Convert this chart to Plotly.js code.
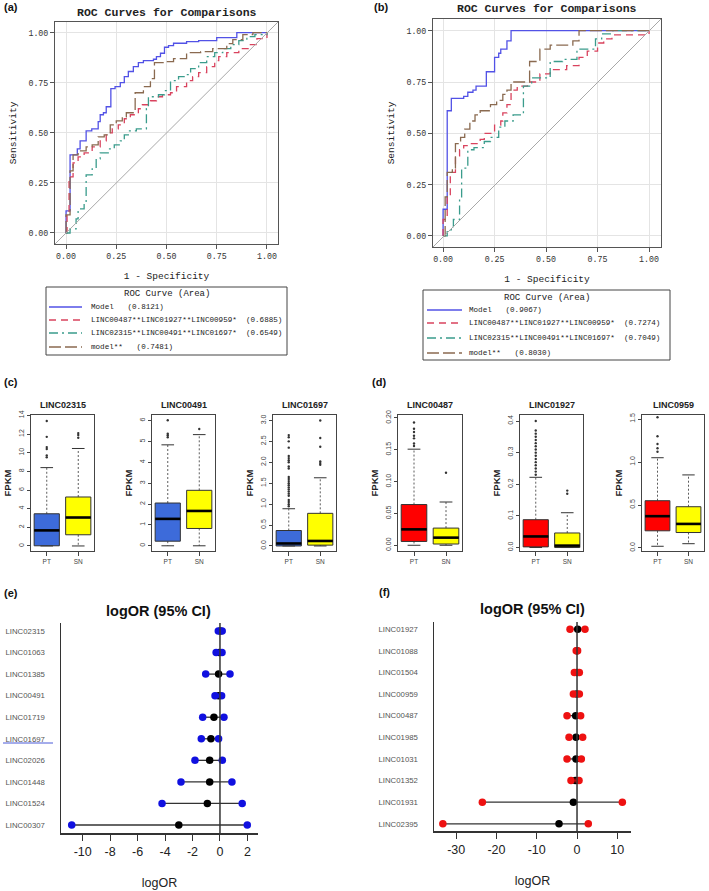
<!DOCTYPE html>
<html><head><meta charset="utf-8">
<script src="https://cdn.plot.ly/plotly-3.0.1.min.js"></script>
<style>body{margin:0;padding:0;background:#fff}#chart{width:709px;height:891px}</style>
</head><body><div id="chart"></div>
<script>
// ---------- ROC data (a) ----------
const aModelFpr = [0,0,0.02,0.056,0.07,0.10,0.128,0.16,0.17,0.186,0.20,0.223,0.244,0.27,0.29,0.31,0.335,0.36,0.385,0.435,0.45,0.47,0.49,0.51,0.535,0.6,0.66,0.75,0.85,1.0];
const aModelTpr = [0,0.11,0.39,0.42,0.46,0.51,0.52,0.556,0.59,0.60,0.63,0.72,0.73,0.75,0.78,0.806,0.83,0.85,0.86,0.867,0.88,0.897,0.927,0.935,0.947,0.955,0.96,0.975,1.0,1.0];
const aRedFpr = [0,0.005,0.015,0.035,0.06,0.09,0.13,0.17,0.20,0.23,0.26,0.29,0.32,0.36,0.38,0.42,0.45,0.48,0.52,0.55,0.60,0.63,0.66,0.70,0.74,0.76,0.80,0.86,0.91,0.95,1.0];
const aRedTpr = [0,0.09,0.28,0.35,0.38,0.40,0.43,0.46,0.50,0.52,0.54,0.57,0.59,0.62,0.64,0.66,0.68,0.69,0.70,0.73,0.76,0.78,0.80,0.83,0.86,0.88,0.90,0.92,0.94,0.97,1.0];
const aTealFpr = [0,0.02,0.05,0.06,0.09,0.10,0.13,0.15,0.17,0.21,0.24,0.27,0.29,0.31,0.35,0.40,0.41,0.46,0.49,0.52,0.56,0.60,0.62,0.66,0.70,0.74,0.78,0.82,0.86,0.90,0.94,1.0];
const aTealTpr = [0,0.02,0.07,0.12,0.15,0.29,0.32,0.37,0.40,0.42,0.44,0.46,0.49,0.51,0.52,0.62,0.68,0.69,0.71,0.76,0.78,0.79,0.82,0.85,0.88,0.90,0.92,0.94,0.96,0.98,0.99,1.0];
const aBrownFpr = [0,0,0.02,0.035,0.06,0.10,0.13,0.16,0.19,0.22,0.25,0.28,0.30,0.344,0.385,0.42,0.44,0.50,0.535,0.60,0.67,0.73,0.80,0.83,0.88,0.93,1.0];
const aBrownTpr = [0,0.09,0.31,0.39,0.41,0.43,0.44,0.48,0.49,0.54,0.56,0.58,0.60,0.70,0.73,0.77,0.85,0.855,0.87,0.90,0.905,0.92,0.945,0.965,0.99,1.0,1.0];
const aAreas = ["0.8121","0.6885","0.6549","0.7481"];
// ---------- ROC data (b) ----------
const bModelFpr = [0,0,0.02,0.04,0.10,0.12,0.145,0.16,0.21,0.25,0.27,0.28,0.31,0.33,1.0];
const bModelTpr = [0,0.13,0.61,0.67,0.68,0.70,0.71,0.73,0.80,0.87,0.89,0.91,0.95,1.0,1.0];
const bRedFpr = [0,0,0.02,0.035,0.06,0.08,0.10,0.13,0.18,0.20,0.25,0.28,0.29,0.31,0.33,0.36,0.41,0.47,0.52,0.60,0.66,0.70,0.75,0.78,0.82,1.0];
const bRedTpr = [0,0.08,0.19,0.31,0.39,0.42,0.44,0.45,0.47,0.50,0.54,0.56,0.60,0.64,0.71,0.73,0.75,0.79,0.81,0.83,0.87,0.90,0.94,0.96,0.98,1.0];
const bTealFpr = [0,0.02,0.05,0.08,0.09,0.12,0.15,0.20,0.23,0.27,0.30,0.34,0.39,0.43,0.52,0.58,0.65,0.74,0.77,0.82,1.0];
const bTealTpr = [0,0.03,0.08,0.18,0.33,0.42,0.43,0.46,0.48,0.53,0.56,0.59,0.73,0.77,0.85,0.86,0.91,0.96,0.985,1.0,1.0];
const bBrownFpr = [0,0.01,0.02,0.045,0.06,0.085,0.105,0.13,0.155,0.18,0.23,0.26,0.29,0.31,0.33,0.42,0.47,0.52,0.63,0.66,1.0];
const bBrownTpr = [0,0.19,0.31,0.33,0.45,0.48,0.52,0.56,0.59,0.61,0.64,0.66,0.69,0.71,0.75,0.85,0.91,0.93,0.95,1.0,1.0];
const bAreas = ["0.9067","0.7274","0.7049","0.8030"];
const rocNames = ["Model","LINC00487**LINC01927**LINC00959*","LINC02315**LINC00491**LINC01697*","model**"];
const rocTicks = [0,0.25,0.5,0.75,1];

// ---------- Box plots (c) ----------
const cGenes = ["LINC02315","LINC00491","LINC01697"];
const cPT_q1 = [0.02,0.22,0.0], cPT_med = [1.67,1.29,0.06], cPT_q3 = [3.45,2.05,0.37], cPT_lo = [0,0,0], cPT_hi = [8.4,4.84,0.89];
const cPT_out = [[9.5,9.7,10.4,10.6,11.7,13.4],[5.2,5.3,5.37,6.02],[0.95,1.0,1.05,1.1,1.2,1.25,1.3,1.35,1.4,1.45,1.5,1.55,1.6,1.65,1.85,1.9,2.0,2.05,2.1,2.15,2.35,2.5,2.6,2.65]];
const cSN_q1 = [1.2,0.83,0.02], cSN_med = [3.05,1.67,0.12], cSN_q3 = [5.25,2.66,0.78], cSN_lo = [0,0,0], cSN_hi = [10.45,5.33,1.63];
const cSN_out = [[11.6,11.9,12.1],[5.6],[1.94,1.98,2.02,2.37,2.58,3.0]];
const cRanges = [[-0.54,14.04],[-0.25,6.27],[-0.12,3.13]];
const cTicks = [[0,2,4,6,8,10,12,14],[0,1,2,3,4,5,6],[0,0.5,1,1.5,2,2.5,3]];
const cTickText = [["0","2","4","6","8","10","12","14"],["0","1","2","3","4","5","6"],["0.0","0.5","1.0","1.5","2.0","2.5","3.0"]];
// ---------- Box plots (d) ----------
const dGenes = ["LINC00487","LINC01927","LINC0959"];
const dPT_q1 = [0.006,0.002,0.2], dPT_med = [0.025,0.035,0.37], dPT_q3 = [0.064,0.088,0.55], dPT_lo = [0,0,0.02], dPT_hi = [0.151,0.222,1.05];
const dPT_out = [[0.156,0.16,0.168,0.172,0.178,0.183,0.193],[0.23,0.24,0.25,0.26,0.27,0.28,0.29,0.30,0.31,0.32,0.33,0.34,0.35,0.36,0.37,0.40],[1.12,1.16,1.21,1.30,1.52]];
const dSN_q1 = [0.002,0.0,0.18], dSN_med = [0.012,0.006,0.28], dSN_q3 = [0.027,0.046,0.48], dSN_lo = [0,0,0.05], dSN_hi = [0.068,0.11,0.85];
const dSN_out = [[0.114],[0.17,0.18],[]];
const dRanges = [[-0.009,0.2047],[-0.011,0.419],[-0.035,1.547]];
const dTicks = [[0,0.05,0.1,0.15,0.2],[0,0.1,0.2,0.3,0.4],[0,0.5,1,1.5]];
const dTickText = [["0.00","0.05","0.10","0.15","0.20"],["0.0","0.1","0.2","0.3","0.4"],["0.0","0.5","1.0","1.5"]];
const groups = ["PT","SN"];

// ---------- Forest (e) ----------
const eGenes = ["LINC02315","LINC01063","LINC01385","LINC00491","LINC01719","LINC01697","LINC02026","LINC01448","LINC01524","LINC00307"];
const eLow = [-0.12,-0.28,-1.04,-0.36,-1.26,-1.36,-1.82,-2.84,-4.22,-10.8];
const eEst = [0.03,-0.05,-0.1,-0.1,-0.44,-0.66,-0.75,-0.75,-0.92,-3.0];
const eUp  = [0.16,0.15,0.73,0.12,0.29,-0.1,0.17,0.87,1.62,1.99];
const eTicks = [-10,-8,-6,-4,-2,0,2];
const eTickText = ["-10","-8","-6","-4","-2","0","2"];
// ---------- Forest (f) ----------
const fGenes = ["LINC01927","LINC01088","LINC01504","LINC00959","LINC00487","LINC01985","LINC01031","LINC01352","LINC01931","LINC02395"];
const fLow = [-1.74,-0.2,-0.66,-0.9,-2.48,-1.98,-2.48,-1.49,-23.5,-33.3];
const fEst = [0.17,0.0,0.0,-0.1,-0.33,-0.25,-0.25,-0.4,-0.9,-4.47];
const fUp  = [1.98,0.15,0.58,0.58,0.9,1.4,1.07,0.5,11.25,2.8];
const fTicks = [-30,-20,-10,0,10];
const fTickText = ["-30","-20","-10","0","10"];

// ---------- helpers ----------
const W = 709, H = 891;
const px = x => x / W;
const py = y => 1 - y / H;
const dom = (a, b, isY) => isY ? [1 - b / H, 1 - a / H] : [a / W, b / W];
const traces = [];
const shapes = [];
const annotations = [];
const layout = {
  width: W, height: H, margin: {l: 0, r: 0, t: 0, b: 0}, autosize: false,
  paper_bgcolor: '#fff', plot_bgcolor: '#fff', showlegend: false,
  font: {family: 'Liberation Sans, Arial, sans-serif', color: '#222'}
};
const rocColors = ['#5252E6', '#D9435E', '#3A9C8C', '#8A6A50'];
const rocDash = ['solid', '7px,5px', '9px,4px,2px,4px', '12px,4px'];
const mono = 'Liberation Mono, DejaVu Sans Mono, monospace';

function rocPanel(n, xd, yd, xr, yr, curves, areas, title, legendBox, xStand) {
  const xa = 'xaxis' + (n === 1 ? '' : n), ya = 'yaxis' + (n === 1 ? '' : n);
  const xs = 'x' + (n === 1 ? '' : n), ys = 'y' + (n === 1 ? '' : n);
  layout[xa] = {domain: dom(xd[0], xd[1]), range: xr, anchor: ys, tickvals: rocTicks, tickformat: '.2f',
    ticks: 'outside', ticklen: 4, tickcolor: '#555', showline: true, mirror: true, linecolor: '#555', linewidth: 1,
    showgrid: true, gridcolor: '#E4E4E4', zeroline: false, tickfont: {family: mono, size: 8.3, color: '#333'},
    title: {text: '1 - Specificity', font: {family: mono, size: 9.5, color: '#222'}, standoff: xStand}};
  layout[ya] = {domain: dom(yd[0], yd[1], true), range: yr, anchor: xs, tickvals: rocTicks, tickformat: '.2f',
    ticks: 'outside', ticklen: 4, tickcolor: '#555', showline: true, mirror: true, linecolor: '#555', linewidth: 1,
    showgrid: true, gridcolor: '#E4E4E4', zeroline: false, tickfont: {family: mono, size: 8.3, color: '#333'},
    title: {text: 'Sensitivity', font: {family: mono, size: 9.5, color: '#222'}, standoff: 10}};
  shapes.push({type: 'line', xref: xs + ' domain', yref: ys + ' domain', x0: 0, y0: 0, x1: 1, y1: 1,
    line: {color: '#A8A8A8', width: 1}});
  curves.forEach((c, i) => {
    traces.push({type: 'scatter', mode: 'lines', x: c[0], y: c[1], xaxis: xs, yaxis: ys,
      line: {color: rocColors[i], width: 1.3, dash: rocDash[i], shape: 'hv'}, hoverinfo: 'skip'});
  });
  annotations.push({xref: 'paper', yref: 'paper', x: px((xd[0] + xd[1]) / 2), y: py(title.y), text: '<b>ROC Curves for Comparisons</b>',
    showarrow: false, xanchor: 'center', yanchor: 'middle', font: {family: mono, size: 11.5, color: '#222'}});
  const L = legendBox;
  shapes.push({type: 'rect', xref: 'paper', yref: 'paper', x0: px(L.x0), x1: px(L.x1), y0: py(L.y0), y1: py(L.y1),
    line: {color: '#444', width: 1}, fillcolor: 'rgba(0,0,0,0)'});
  annotations.push({xref: 'paper', yref: 'paper', x: px((L.x0 + L.x1) / 2), y: py(L.rows[0]), text: 'ROC Curve (Area)',
    showarrow: false, xanchor: 'center', yanchor: 'middle', font: {family: mono, size: 9, color: '#222'}});
  rocNames.forEach((nm, i) => {
    const yy = L.rows[i + 1];
    shapes.push({type: 'line', xref: 'paper', yref: 'paper', x0: px(L.lx0), x1: px(L.lx1), y0: py(yy), y1: py(yy),
      line: {color: rocColors[i], width: 1.3, dash: rocDash[i]}});
    const gap = (i === 1 || i === 2) ? '\u00a0\u00a0' : '\u00a0\u00a0\u00a0';
    annotations.push({xref: 'paper', yref: 'paper', x: px(L.tx), y: py(yy), text: nm + gap + '(' + areas[i] + ')',
      showarrow: false, xanchor: 'left', yanchor: 'middle', font: {family: mono, size: 7.6, color: '#222'}});
  });
}

rocPanel(1, [55, 278], [22, 244], [-0.055, 1.055], [-0.055, 1.053],
  [[aModelFpr, aModelTpr], [aRedFpr, aRedTpr], [aTealFpr, aTealTpr], [aBrownFpr, aBrownTpr]], aAreas, {y: 12},
  {x0: 46, x1: 287, y0: 287, y1: 355, rows: [294, 307, 320, 333, 347], lx0: 49, lx1: 82, tx: 89}, 12);
rocPanel(2, [433, 661], [19, 247], [-0.049, 1.058], [-0.054, 1.057],
  [[bModelFpr, bModelTpr], [bRedFpr, bRedTpr], [bTealFpr, bTealTpr], [bBrownFpr, bBrownTpr]], bAreas, {y: 9},
  {x0: 423, x1: 670, y0: 290, y1: 360, rows: [298, 310, 323, 338, 353], lx0: 427, lx1: 462, tx: 467}, 12);

// ---------- box panels ----------
function boxPanel(n, xd, genes, q1s, meds, q3s, los, his, outs, rng, tv, tt, color) {
  const xs = 'x' + n, ys = 'y' + n;
  layout['xaxis' + n] = {domain: dom(xd[0], xd[1]), range: [0.5, 2.5], anchor: ys, tickvals: [1, 2], ticktext: groups,
    ticks: 'outside', ticklen: 4, tickcolor: '#444', showline: true, mirror: true, linecolor: '#444', linewidth: 1,
    showgrid: false, zeroline: false, tickfont: {size: 6.5, color: '#444'}};
  layout['yaxis' + n] = {domain: dom(415, 551, true), range: rng, anchor: xs, tickvals: tv, ticktext: tt, tickangle: -90,
    ticks: 'outside', ticklen: 3, tickcolor: '#444', showline: true, mirror: true, linecolor: '#444', linewidth: 1,
    showgrid: false, zeroline: false, tickfont: {size: 7, color: '#444'},
    title: {text: '<b>FPKM</b>', font: {size: 9.5, color: '#222'}, standoff: 4}};
  annotations.push({xref: 'paper', yref: 'paper', x: px((xd[0] + xd[1]) / 2), y: py(405), text: '<b>' + genes + '</b>',
    showarrow: false, xanchor: 'center', yanchor: 'middle', font: {size: 9, color: '#222'}});
  [0, 1].forEach(g => {
    const pos = g + 1;
    traces.push({type: 'box', x: [pos], q1: [q1s[g]], median: [meds[g]], q3: [q3s[g]], lowerfence: [q1s[g]], upperfence: [q3s[g]],
      width: 0.8, whiskerwidth: 0, fillcolor: color[g], line: {color: '#333', width: 1}, boxpoints: false,
      xaxis: xs, yaxis: ys, hoverinfo: 'skip'});
    traces.push({type: 'scatter', mode: 'lines', x: [pos, pos, null, pos, pos], y: [q3s[g], his[g], null, q1s[g], los[g]],
      line: {color: '#333', width: 0.8, dash: '2px,2px'}, xaxis: xs, yaxis: ys, hoverinfo: 'skip'});
    traces.push({type: 'scatter', mode: 'lines', x: [pos - 0.2, pos + 0.2, null, pos - 0.2, pos + 0.2], y: [his[g], his[g], null, los[g], los[g]],
      line: {color: '#333', width: 1}, xaxis: xs, yaxis: ys, hoverinfo: 'skip'});
    traces.push({type: 'scatter', mode: 'lines', x: [pos - 0.4, pos + 0.4], y: [meds[g], meds[g]],
      line: {color: '#000', width: 2.6}, xaxis: xs, yaxis: ys, hoverinfo: 'skip'});
    traces.push({type: 'scatter', mode: 'markers', x: outs[g].map(() => pos), y: outs[g],
      marker: {symbol: 'circle', size: 2.4, color: '#333'}, xaxis: xs, yaxis: ys, hoverinfo: 'skip'});
  });
}
const cDomains = [[31, 94], [152, 215], [273, 336]];
const dDomains = [[398, 462], [520, 583], [642, 704]];
for (let i = 0; i < 3; i++) {
  boxPanel(3 + i, cDomains[i], cGenes[i], [cPT_q1[i], cSN_q1[i]], [cPT_med[i], cSN_med[i]], [cPT_q3[i], cSN_q3[i]],
    [cPT_lo[i], cSN_lo[i]], [cPT_hi[i], cSN_hi[i]], [cPT_out[i], cSN_out[i]], cRanges[i], cTicks[i], cTickText[i], ['#3D6BDA', '#FFFF00']);
  boxPanel(6 + i, dDomains[i], dGenes[i], [dPT_q1[i], dSN_q1[i]], [dPT_med[i], dSN_med[i]], [dPT_q3[i], dSN_q3[i]],
    [dPT_lo[i], dSN_lo[i]], [dPT_hi[i], dSN_hi[i]], [dPT_out[i], dSN_out[i]], dRanges[i], dTicks[i], dTickText[i], ['#FF0000', '#FFFF00']);
}

// ---------- forest panels ----------
function forestPanel(n, xd, yd, xr, yr, genes, lo, est, up, tv, tt, dotColor, titleX, titleY) {
  const xs = 'x' + n, ys = 'y' + n;
  layout['xaxis' + n] = {domain: dom(xd[0], xd[1]), range: xr, anchor: ys, tickvals: tv, ticktext: tt,
    ticks: 'outside', ticklen: 6, tickcolor: '#333', showline: true, mirror: false, linecolor: '#333', linewidth: 1.5,
    showgrid: false, zeroline: false, tickfont: {size: 12.5, color: '#222'},
    title: {text: 'logOR', font: {size: 12.5, color: '#222'}, standoff: 20}};
  layout['yaxis' + n] = {domain: dom(yd[0], yd[1], true), type: 'category', categoryarray: genes, categoryorder: 'array',
    range: yr, anchor: xs, ticks: '', showline: true, mirror: false, linecolor: '#333', linewidth: 1.5,
    showgrid: false, zeroline: false, tickfont: {size: 7.8, color: '#555'}, ticklabelstandoff: 13};
  shapes.push({type: 'line', xref: xs, yref: ys + ' domain', x0: 0, x1: 0, y0: 0, y1: 1, line: {color: '#333', width: 1.5}});
  const lx = [], ly = [];
  genes.forEach((g, i) => { lx.push(lo[i], up[i], null); ly.push(g, g, null); });
  traces.push({type: 'scatter', mode: 'lines', x: lx, y: ly, xaxis: xs, yaxis: ys, line: {color: '#333', width: 1.3}, hoverinfo: 'skip'});
  traces.push({type: 'scatter', mode: 'markers', x: est, y: genes, xaxis: xs, yaxis: ys,
    marker: {color: '#000', size: 7.5}, hoverinfo: 'skip'});
  traces.push({type: 'scatter', mode: 'markers', x: lo.concat(up), y: genes.concat(genes), xaxis: xs, yaxis: ys,
    marker: {color: dotColor, size: 7.5}, hoverinfo: 'skip'});
  annotations.push({xref: 'paper', yref: 'paper', x: px(titleX), y: py(titleY), text: '<b>logOR (95% CI)</b>',
    showarrow: false, xanchor: 'center', yanchor: 'middle', font: {size: 14.5, color: '#111'}});
}
forestPanel(9, [61, 258], [623, 833], [-11.58, 2.77], [9.37, -0.37], eGenes, eLow, eEst, eUp, eTicks, eTickText, '#1010E0', 158, 611);
forestPanel(10, [434, 631], [622, 831], [-35.5, 13.4], [9.33, -0.33], fGenes, fLow, fEst, fUp, fTicks, fTickText, '#EE1111', 532, 609);
shapes.push({type: 'line', xref: 'paper', yref: 'paper', x0: px(3), x1: px(53), y0: py(743), y1: py(743), line: {color: '#4A5AD8', width: 1}});

[['(a)', 2, 7], ['(b)', 372, 7], ['(c)', 2, 382], ['(d)', 370, 382], ['(e)', 2, 593], ['(f)', 377, 592]].forEach(p => {
  annotations.push({xref: 'paper', yref: 'paper', x: px(p[1]), y: py(p[2]), text: '<b>' + p[0] + '</b>', showarrow: false,
    xanchor: 'left', yanchor: 'middle', font: {size: 11, color: '#111'}});
});

layout.shapes = shapes;
layout.annotations = annotations;
Plotly.newPlot('chart', traces, layout, {displayModeBar: false, staticPlot: true});
</script></body></html>
